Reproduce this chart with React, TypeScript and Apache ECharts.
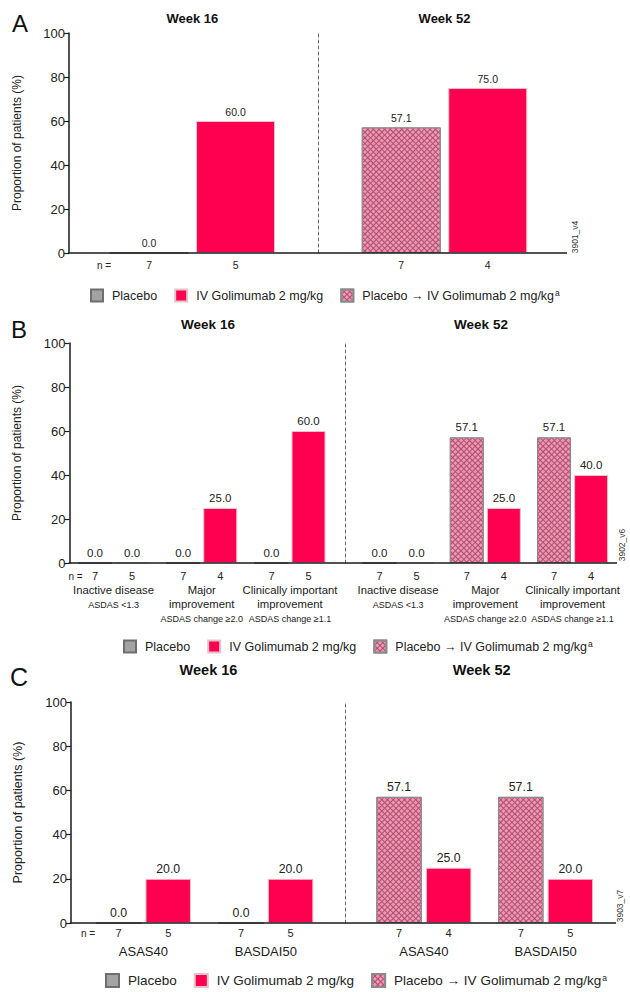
import React, { useEffect, useRef } from 'react';
import * as echarts from 'echarts';

const FONT = '"Liberation Sans", Arial, Helvetica, sans-serif';

const legendNames = ['Placebo', 'IV Golimumab 2 mg/kg', 'Placebo → IV Golimumab 2 mg/kg'];
const weekLabels = ['Week 16', 'Week 52'];
const panelLetters = ['A', 'B', 'C'];
const figureIds = ['3901_v4', '3902_v6', '3903_v7'];
const yAxisName = 'Proportion of patients (%)';

// Panel A
const aCategories = [''];
const aWeek16Placebo = [0.0];
const aWeek16Golimumab = [60.0];
const aWeek52Switch = [57.1];
const aWeek52Golimumab = [75.0];
const aWeek16PlaceboN = [7];
const aWeek16GolimumabN = [5];
const aWeek52SwitchN = [7];
const aWeek52GolimumabN = [4];

// Panel B
const bCategories = ['Inactive disease', 'Major\nimprovement', 'Clinically important\nimprovement'];
const bCriteria = ['ASDAS <1.3', 'ASDAS change ≥2.0', 'ASDAS change ≥1.1'];
const bWeek16Placebo = [0.0, 0.0, 0.0];
const bWeek16Golimumab = [0.0, 25.0, 60.0];
const bWeek52Switch = [0.0, 57.1, 57.1];
const bWeek52Golimumab = [0.0, 25.0, 40.0];
const bWeek16PlaceboN = [7, 7, 7];
const bWeek16GolimumabN = [5, 4, 5];
const bWeek52SwitchN = [7, 7, 7];
const bWeek52GolimumabN = [5, 4, 4];

// Panel C
const cCategories = ['ASAS40', 'BASDAI50'];
const cWeek16Placebo = [0.0, 0.0];
const cWeek16Golimumab = [20.0, 20.0];
const cWeek52Switch = [57.1, 57.1];
const cWeek52Golimumab = [25.0, 20.0];
const cWeek16PlaceboN = [7, 7];
const cWeek16GolimumabN = [5, 5];
const cWeek52SwitchN = [7, 7];
const cWeek52GolimumabN = [4, 5];

const panels = [
  { categories: aCategories, criteria: null as string[] | null, w16p: aWeek16Placebo, w16g: aWeek16Golimumab, w52s: aWeek52Switch, w52g: aWeek52Golimumab, n16p: aWeek16PlaceboN, n16g: aWeek16GolimumabN, n52s: aWeek52SwitchN, n52g: aWeek52GolimumabN },
  { categories: bCategories, criteria: bCriteria, w16p: bWeek16Placebo, w16g: bWeek16Golimumab, w52s: bWeek52Switch, w52g: bWeek52Golimumab, n16p: bWeek16PlaceboN, n16g: bWeek16GolimumabN, n52s: bWeek52SwitchN, n52g: bWeek52GolimumabN },
  { categories: cCategories, criteria: null as string[] | null, w16p: cWeek16Placebo, w16g: cWeek16Golimumab, w52s: cWeek52Switch, w52g: cWeek52Golimumab, n16p: cWeek16PlaceboN, n16g: cWeek16GolimumabN, n52s: cWeek52SwitchN, n52g: cWeek52GolimumabN },
];

const layouts = [
  { top: 33, height: 220, axisX: 69, left: [69, 315.6], right: [322, 567], dashX: 318, endX: 567, barWidth: 79, barGap: '9.5%', nCell: 86.5, valueFs: 10.5, nFs: 10.5, catFs: 11.3, tickFs: 13, nameFs: 12, xMargin: 5, cLine: 22, legendLeft: 90, legendTop: 288, legendFs: 12.5, icon: 12, weekY: 18, weekX: [192.3, 444.5], weekFs: 13, letter: [20, 23.5], letterFs: 24, nEq: [104, 265], id: [575, 237], nameGap: 46 },
  { top: 343, height: 220, axisX: 69.4, left: [69.4, 334.1], right: [354.4, 616.2], dashX: 345, endX: 617, barWidth: 34, barGap: '9%', nCell: 37, valueFs: 11.5, nFs: 11, catFs: 11.3, tickFs: 13, nameFs: 12, xMargin: 6, cLine: 22, legendLeft: 123, legendTop: 639, legendFs: 12.5, icon: 12, weekY: 324, weekX: [208, 481], weekFs: 13.5, letter: [19, 329], letterFs: 24, nEq: [75.6, 576], id: [622, 545], nameGap: 46 },
  { top: 702, height: 221, axisX: 71, left: [82.2, 327], right: [363, 606.4], dashX: 345, endX: 616, barWidth: 45.5, barGap: '9%', nCell: 49.6, valueFs: 12.3, nFs: 11, catFs: 13, tickFs: 13, nameFs: 12.5, xMargin: 3, cLine: 22, legendLeft: 105, legendTop: 973, legendFs: 13.5, icon: 13, weekY: 670, weekX: [208.5, 481.7], weekFs: 14.5, letter: [19, 677], letterFs: 25, nEq: [88, 933], id: [620, 906], nameGap: 47 },
];

const RED = '#ff0050';
const GREY = '#a3a3a3';
const HATCH_LINE = '#a2546f';
const HATCH_FILL = '#f792b3';

function buildOption() {
  const grid: any[] = [];
  const xAxis: any[] = [];
  const yAxis: any[] = [];
  const series: any[] = [];
  const legend: any[] = [];
  const graphic: any[] = [];

  panels.forEach((p, pi) => {
    const L = layouts[pi];
    const g0 = grid.length;
    grid.push({ left: L.left[0], width: L.left[1] - L.left[0], top: L.top, height: L.height });
    grid.push({ left: L.right[0], width: L.right[1] - L.right[0], top: L.top, height: L.height });

    const rich = {
      n: { width: L.nCell, align: 'center', fontSize: L.nFs, lineHeight: 14, color: '#222', fontFamily: FONT },
      m: { align: 'center', fontSize: L.catFs, lineHeight: 14, color: '#1a1a1a', fontFamily: FONT },
      s: { align: 'center', fontSize: 9, lineHeight: 16, color: '#1a1a1a', fontFamily: FONT },
      c: { align: 'center', fontSize: L.catFs, lineHeight: L.cLine, color: '#1a1a1a', fontFamily: FONT },
    };

    const makeX = (gridIndex: number, nA: number[], nB: number[]) => ({
      type: 'category',
      gridIndex,
      data: p.categories,
      axisLine: { show: false },
      axisTick: { show: false },
      axisLabel: {
        interval: 0,
        margin: L.xMargin,
        formatter: (v: string, i: number) => {
          let s = `{n|${nA[i]}}{n|${nB[i]}}`;
          if (pi === 1) {
            s += '\n' + v.split('\n').map((l) => `{m|${l}}`).join('\n');
            s += `\n{s|${(p.criteria as string[])[i]}}`;
          } else if (pi === 2) {
            s += `\n{c|${v}}`;
          }
          return s;
        },
        rich,
      },
    });
    xAxis.push(makeX(g0, p.n16p, p.n16g));
    xAxis.push(makeX(g0 + 1, p.n52s, p.n52g));

    yAxis.push({
      type: 'value',
      gridIndex: g0,
      min: 0,
      max: 100,
      interval: 20,
      offset: L.left[0] - L.axisX,
      name: yAxisName,
      nameLocation: 'middle',
      nameGap: L.nameGap,
      nameTextStyle: { fontSize: L.nameFs, color: '#222', fontFamily: FONT },
      axisLine: { show: true, lineStyle: { color: '#1a1a1a', width: 1.5 } },
      axisTick: { show: true, length: 5, lineStyle: { color: '#1a1a1a', width: 1.2 } },
      axisLabel: { fontSize: L.tickFs, color: '#222', margin: 4, fontFamily: FONT },
      splitLine: { show: false },
    });
    yAxis.push({
      type: 'value',
      gridIndex: g0 + 1,
      min: 0,
      max: 100,
      interval: 20,
      offset: L.right[0] - L.dashX,
      axisLine: { show: true, lineStyle: { color: '#666', width: 1, type: [3, 3] } },
      axisTick: { show: false },
      axisLabel: { show: false },
      splitLine: { show: false },
    });

    const label = {
      show: true,
      position: 'top',
      distance: 4,
      fontSize: L.valueFs,
      color: '#222',
      fontFamily: FONT,
      formatter: (d: any) => Number(d.value).toFixed(1),
    };
    const common = { type: 'bar', barWidth: L.barWidth, barGap: L.barGap, label };
    series.push({
      ...common, name: legendNames[0], xAxisIndex: g0, yAxisIndex: g0, data: p.w16p,
      itemStyle: { color: GREY, borderColor: '#6e6e6e', borderWidth: 1 },
    });
    series.push({
      ...common, name: legendNames[1], xAxisIndex: g0, yAxisIndex: g0, data: p.w16g,
      itemStyle: { color: RED, borderColor: '#e4c4cc', borderWidth: 1 },
    });
    series.push({
      ...common, name: legendNames[2], xAxisIndex: g0 + 1, yAxisIndex: g0 + 1, data: p.w52s,
      itemStyle: {
        color: HATCH_LINE,
        borderColor: '#8a8a8a',
        borderWidth: 1,
        decal: {
          symbol: 'rect',
          symbolSize: 1,
          color: HATCH_FILL,
          dashArrayX: [3, 0.8],
          dashArrayY: [3, 0.8],
          rotation: Math.PI / 4,
        },
      },
    });
    series.push({
      ...common, name: legendNames[1], xAxisIndex: g0 + 1, yAxisIndex: g0 + 1, data: p.w52g,
      itemStyle: { color: RED, borderColor: '#e4c4cc', borderWidth: 1 },
    });

    legend.push({
      data: legendNames,
      left: L.legendLeft,
      top: L.legendTop,
      itemWidth: L.icon,
      itemHeight: L.icon,
      itemGap: 17,
      icon: 'rect',
      selectedMode: false,
      padding: 0,
      formatter: (name: string) => (name === legendNames[2] ? `${name}{sup|a}` : name),
      textStyle: {
        fontSize: L.legendFs,
        color: '#222',
        fontFamily: FONT,
        padding: [0, 0, 0, 4],
        rich: {
          sup: { fontSize: 8.5, verticalAlign: 'top', padding: [0, 0, 6, 1], color: '#222', fontFamily: FONT },
        },
      },
    });

    const baseY = L.top + L.height;
    graphic.push({
      type: 'line',
      shape: { x1: L.axisX - 0.75, y1: baseY, x2: L.endX, y2: baseY },
      style: { stroke: '#1a1a1a', lineWidth: 1.5 },
      z: 10,
    });
    graphic.push({
      type: 'text', x: L.letter[0], y: L.letter[1],
      style: { text: panelLetters[pi], fontSize: L.letterFs, fontFamily: FONT, fill: '#111', align: 'center', verticalAlign: 'middle', textAlign: 'center', textVerticalAlign: 'middle' },
    });
    weekLabels.forEach((w, wi) => {
      graphic.push({
        type: 'text', x: L.weekX[wi], y: L.weekY,
        style: { text: w, fontSize: L.weekFs, fontWeight: 'bold', fontFamily: FONT, fill: '#111', align: 'center', verticalAlign: 'middle', textAlign: 'center', textVerticalAlign: 'middle' },
      });
    });
    graphic.push({
      type: 'text', x: L.nEq[0], y: L.nEq[1],
      style: { text: 'n =', fontSize: 10, fontFamily: FONT, fill: '#222', align: 'center', verticalAlign: 'middle', textAlign: 'center', textVerticalAlign: 'middle' },
    });
    graphic.push({
      type: 'text', x: L.id[0], y: L.id[1], rotation: Math.PI / 2,
      style: { text: figureIds[pi], fontSize: 8.5, fontFamily: FONT, fill: '#333', align: 'center', verticalAlign: 'middle', textAlign: 'center', textVerticalAlign: 'middle' },
    });
  });

  return {
    animation: false,
    backgroundColor: '#ffffff',
    textStyle: { fontFamily: FONT },
    grid,
    xAxis,
    yAxis,
    series,
    legend,
    graphic,
  };
}

export default function App() {
  const ref = useRef<HTMLDivElement>(null);
  useEffect(() => {
    if (!ref.current) return;
    const chart = echarts.init(ref.current, null, { renderer: 'svg' });
    chart.setOption(buildOption() as any);
    return () => chart.dispose();
  }, []);
  return (
    <div
      ref={ref}
      style={{ position: 'absolute', left: 0, top: 0, width: 630, height: 992, background: '#fff' }}
    />
  );
}
